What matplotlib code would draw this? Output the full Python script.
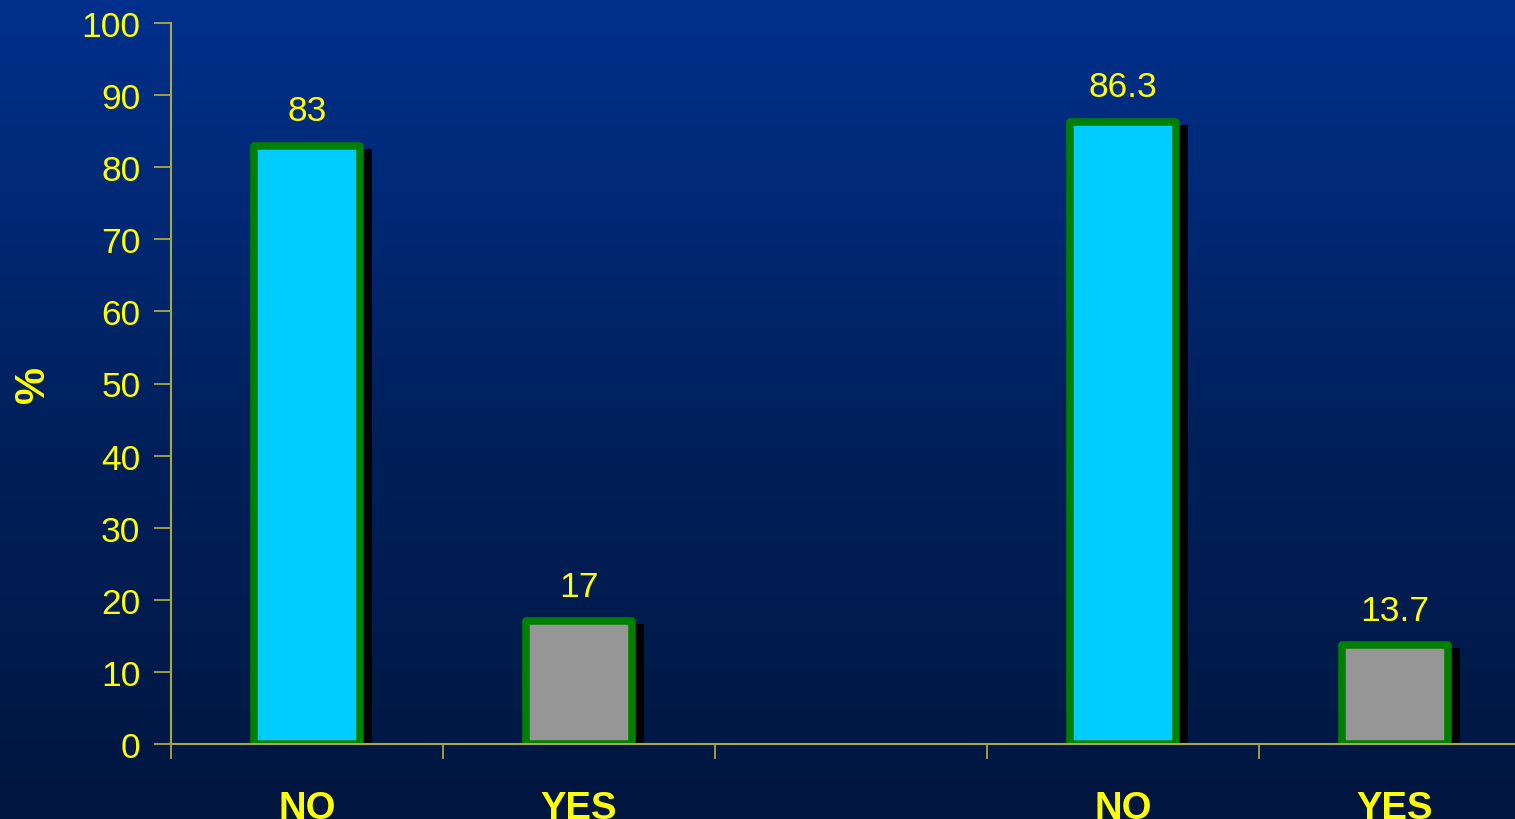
import numpy as np
import matplotlib
matplotlib.use("Agg")
import matplotlib.pyplot as plt
from matplotlib.transforms import ScaledTranslation
from matplotlib.colors import LinearSegmentedColormap

# Data
categories = ["NO", "YES", "", "NO", "YES"]
values = [83, 17, None, 86.3, 13.7]
value_labels = ["83", "17", "", "86.3", "13.7"]
bar_colors = ["#00ccff", "#969696", "none", "#00ccff", "#969696"]
yticks = [0, 10, 20, 30, 40, 50, 60, 70, 80, 90, 100]

plt.rcParams["font.family"] = ["Liberation Sans", "DejaVu Sans"]

W, H, DPI = 1515, 820, 100
fig = plt.figure(figsize=(W / DPI, H / DPI), dpi=DPI)

# Vertical blue gradient background
bg = fig.add_axes([0, 0, 1, 1], zorder=-10)
grad_cmap = LinearSegmentedColormap.from_list("bg", ["#00308c", "#00215e", "#00163f"])
bg.imshow(np.linspace(0, 1, 256).reshape(-1, 1), aspect="auto", cmap=grad_cmap,
          extent=[0, 1, 0, 1])
bg.set_axis_off()

slot = 272 / W
left = 171 / W
bottom = 75 / H
height = 721 / H
ax = fig.add_axes([left, bottom, slot * 5, height])
ax.set_facecolor("none")

x = np.arange(len(categories))
bw = 0.39
axis_col = "#a8a848"
txt_col = "#ffff00"

shadow_tr = ax.transData + ScaledTranslation(8 / DPI, -6 / DPI, fig.dpi_scale_trans)
for xi, v, c in zip(x, values, bar_colors):
    if v is None:
        continue
    ax.bar(xi, v, width=bw, color="black", edgecolor="black", linewidth=5,
           transform=shadow_tr, zorder=0.8)
    ax.bar(xi, v, width=bw, color=c, edgecolor="#008000", linewidth=5.4,
           joinstyle="round", zorder=1)
    ax.annotate(value_labels[xi], (xi, v), xytext=(0, 18.5), textcoords="offset points",
                ha="center", va="baseline", color=txt_col, fontsize=25.5)

ax.set_xlim(-0.5, len(categories) - 0.5)
ax.set_ylim(0, 100)
ax.set_yticks(yticks)
ax.set_yticklabels([str(t) for t in yticks])

ax.set_xticks(np.arange(-0.5, len(categories) - 0.5, 1.0))
ax.set_xticklabels([])
ax.set_xticks(x, minor=True)
ax.set_xticklabels(categories, minor=True, fontweight="bold", fontsize=27.5, color=txt_col)
ax.tick_params(axis="x", which="minor", length=0, pad=33)
ax.tick_params(axis="x", which="major", length=11, width=1.3, color=axis_col, direction="out")
ax.tick_params(axis="y", length=12, width=1.3, color=axis_col, direction="out",
               labelsize=25.5, labelcolor=txt_col, pad=10)

for s in ["top", "right"]:
    ax.spines[s].set_visible(False)
for s in ["left", "bottom"]:
    ax.spines[s].set_color(axis_col)
    ax.spines[s].set_linewidth(1.5)

ax.set_ylabel("%", fontsize=30, fontweight="bold", color=txt_col)
ax.yaxis.set_label_coords((33 - 171) / 1360, 0.5)
ax.yaxis.label.set_va("center")

fig.savefig("out.png", dpi=DPI)
